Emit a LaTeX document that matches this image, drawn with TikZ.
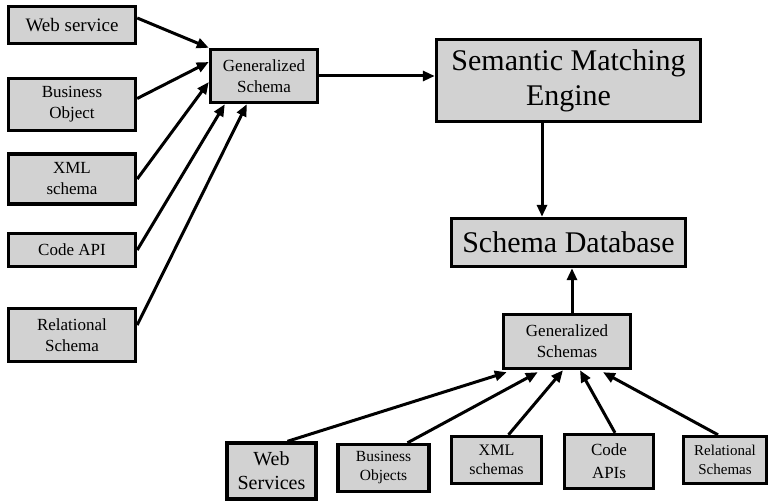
\documentclass[tikz,border=0pt]{standalone}
\usepackage{fontspec}
\setmainfont{Liberation Serif}
\usetikzlibrary{arrows.meta,calc}
\begin{document}
\begin{tikzpicture}[x=1pt,y=-1pt,
  box/.style={draw=black, line width=3.4pt, fill=gray!35, align=center, inner sep=0pt, anchor=center},
  conn/.style={line width=3pt, -{Triangle[length=12pt,width=10pt]}},
  fs/.style 2 args={font=\fontsize{#1}{#2}\selectfont}]
\useasboundingbox (0,0) rectangle (769,503);
\fill[white] (0,0) rectangle (769,503);
% left column
\node[box, fs={19}{23}, minimum width=127pt, minimum height=37pt] (ws) at (72,25) {Web service};
\node[box, fs={17}{21}, minimum width=127pt, minimum height=52pt] (bo) at (72,104.5) {Business\\Object};
\node[box, fs={17}{21}, minimum width=127pt, minimum height=50pt] (xml) at (72,179) {XML\\schema};
\node[box, fs={17}{21}, minimum width=127pt, minimum height=33pt] (code) at (72,250) {Code API};
\node[box, fs={17}{21}, minimum width=127pt, minimum height=53pt] (rel) at (72,335) {Relational\\Schema};
\node[box, fs={17}{21}, minimum width=107pt, minimum height=53pt] (gs) at (264,76) {Generalized\\Schema};
% right
\node[box, fs={30}{35}, minimum width=264pt, minimum height=82pt] (sme) at (568.5,80.5) {Semantic Matching\\Engine};
\node[box, fs={30}{35}, minimum width=234pt, minimum height=48pt] (sdb) at (568.5,242.5) {Schema Database};
\node[box, fs={17}{21}, minimum width=127pt, minimum height=54pt] (gss) at (567,341.5) {Generalized\\Schemas};
% bottom row
\node[box, fs={20}{24}, minimum width=89pt, minimum height=56pt] (wss) at (271.5,471) {Web\\Services};
\node[box, fs={15.5}{19}, minimum width=91pt, minimum height=47pt] (bos) at (383.5,468) {Business\\Objects};
\node[box, fs={16}{19}, minimum width=90pt, minimum height=47pt] (xmls) at (496.5,460) {XML\\schemas};
\node[box, fs={17}{23}, minimum width=89pt, minimum height=54pt] (codes) at (609,461.5) {Code\\APIs};
\node[box, fs={15}{19}, minimum width=83pt, minimum height=47pt] (rels) at (725,460) {Relational\\Schemas};
% helper coordinates
\coordinate (smeout) at ($(sme.south)+(-26.5,0)$);
\coordinate (gssout) at ($(gss.north)+(5,0)$);
% connectors top-left
\draw[conn] ($(ws.east)+(0,-7)$) -- (gs.north west);
\draw[conn] ($(bo.east)+(0,-6)$) -- ($(gs.west)+(0,-14)$);
\draw[conn] (xml.east) -- ($(gs.west)+(0,6)$);
\draw[conn] (code.east) -- ($(gs.south west)+(16,0)$);
\draw[conn] ($(rel.east)+(0,-10)$) -- ($(gs.south west)+(38,0)$);
\draw[conn] (gs.east) -- (gs.east -| sme.west);
\draw[conn] (smeout) -- (smeout |- sdb.north);
\draw[conn] (gssout) -- (gssout |- sdb.south);
% bottom connectors
\draw[conn] ($(wss.north)+(16,0)$) -- ($(gss.south west)+(5,2)$);
\draw[conn] ($(bos.north)+(24,0)$) -- ($(gss.south west)+(36,2)$);
\draw[conn] ($(xmls.north)+(12,0)$) -- ($(gss.south)+(-4,0)$);
\draw[conn] ($(codes.north)+(6,0)$) -- ($(gss.south)+(13,0)$);
\draw[conn] ($(rels.north)+(-7,0)$) -- ($(gss.south)+(36,2)$);
\end{tikzpicture}
\end{document}
